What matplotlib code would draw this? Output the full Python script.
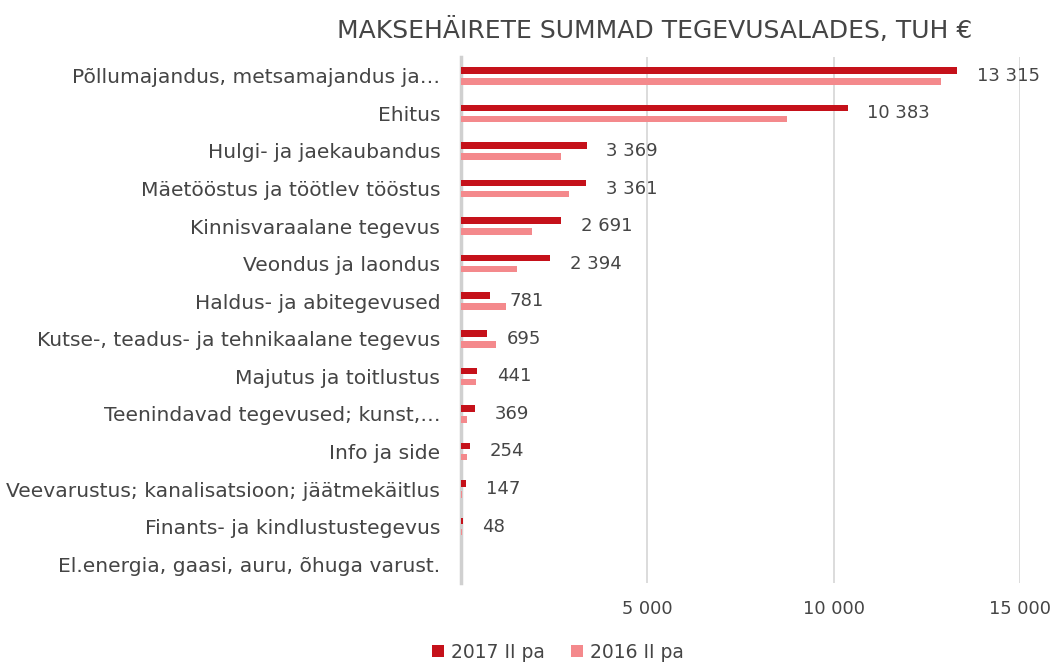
import matplotlib
matplotlib.use("Agg")
import matplotlib.pyplot as plt
import numpy as np

categories = [
    "Põllumajandus, metsamajandus ja…",
    "Ehitus",
    "Hulgi- ja jaekaubandus",
    "Mäetööstus ja töötlev tööstus",
    "Kinnisvaraalane tegevus",
    "Veondus ja laondus",
    "Haldus- ja abitegevused",
    "Kutse-, teadus- ja tehnikaalane tegevus",
    "Majutus ja toitlustus",
    "Teenindavad tegevused; kunst,…",
    "Info ja side",
    "Veevarustus; kanalisatsioon; jäätmekäitlus",
    "Finants- ja kindlustustegevus",
    "El.energia, gaasi, auru, õhuga varust.",
]
values_2017 = [13315, 10383, 3369, 3361, 2691, 2394, 781, 695, 441, 369, 254, 147, 48, 0]
values_2016 = [12890, 8740, 2680, 2900, 1900, 1500, 1200, 930, 400, 170, 160, 30, 20, 0]
labels_2017 = ["13 315", "10 383", "3 369", "3 361", "2 691", "2 394", "781", "695",
               "441", "369", "254", "147", "48", ""]
xticks = [5000, 10000, 15000]
xtick_labels = ["5 000", "10 000", "15 000"]
series_names = ["2017 II pa", "2016 II pa"]

FONT = "DejaVu Sans"
TXT = "#454545"
RED = "#C5111A"
PINK = "#F4898C"

fig = plt.figure(figsize=(10.56, 6.64), dpi=100)
ax = fig.add_axes([461/1056, 1-583/664, (1020-461)/1056, (583-57)/664])

y = np.arange(len(categories))
h = 0.175
off = 0.148
ax.barh(y - off, values_2017, height=h, color=RED, label=series_names[0], zorder=3)
ax.barh(y + off, values_2016, height=h, color=PINK, label=series_names[1], zorder=3)

for yi, v, lab in zip(y, values_2017, labels_2017):
    if lab:
        ax.annotate(lab, xy=(v, yi), xytext=(14, 0), textcoords="offset points",
                    ha="left", va="center", fontsize=13, color=TXT, family=FONT)

ax.set_ylim(len(categories) - 0.5, -0.5)
ax.set_xlim(0, 15000)
ax.set_yticks(y)
ax.set_yticklabels(categories, fontsize=14.6, color=TXT, family=FONT)
ax.set_xticks(xticks)
ax.set_xticklabels(xtick_labels, fontsize=12.8, color=TXT, family=FONT)
ax.tick_params(axis="y", length=0, pad=15)
ax.tick_params(axis="x", length=0, pad=12)
for s in ["top", "right", "bottom"]:
    ax.spines[s].set_visible(False)
ax.spines["left"].set_color("#D0D0D0")
ax.spines["left"].set_linewidth(2.5)
ax.spines["left"].set_zorder(2)
ax.xaxis.grid(True, color="#D9D9D9", linewidth=1.3, zorder=0)
ax.set_axisbelow(True)

fig.text(655/1056, 1-30/664, "MAKSEHÄIRETE SUMMAD TEGEVUSALADES, TUH €",
         ha="center", va="center", fontsize=18, color=TXT, family=FONT)

fig.legend(loc="center", bbox_to_anchor=(558/1056, 1-652/664), ncol=2, frameon=False,
           prop={"family": FONT, "size": 13.5}, labelcolor=TXT, handlelength=0.65,
           handleheight=0.65, handletextpad=0.35, columnspacing=1.4)

fig.savefig("out.png", dpi=100)
